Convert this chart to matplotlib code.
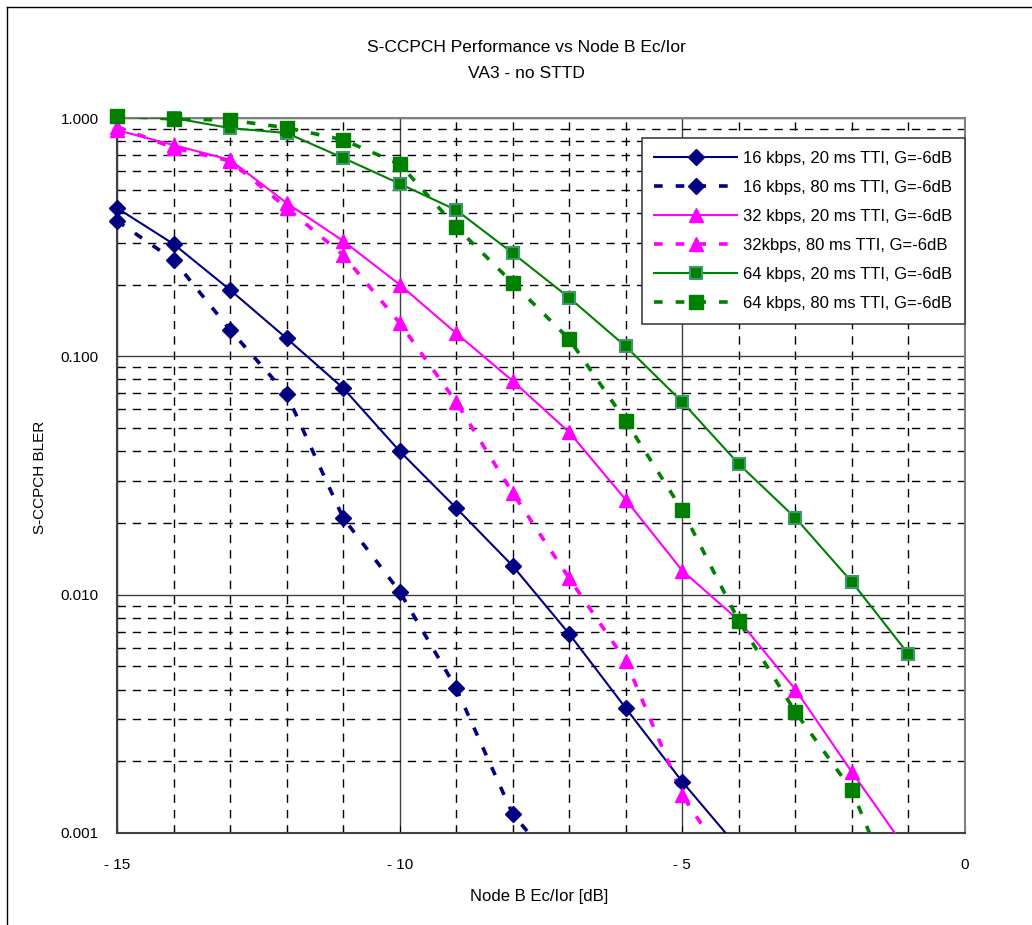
import matplotlib
matplotlib.use("Agg")
import matplotlib.pyplot as plt
from matplotlib.lines import Line2D
from matplotlib.ticker import FixedLocator, NullFormatter, LogLocator
import numpy as np

plt.rcParams['font.family'] = ['Liberation Sans', 'DejaVu Sans']

# ---- data ----
x16_20 = [-15, -14, -13, -12, -11, -10, -9, -8, -7, -6, -5, -4]
y16_20 = [0.419, 0.296, 0.19, 0.119, 0.0736, 0.040, 0.0231, 0.0132, 0.00684, 0.00334, 0.00164, 0.00086]

x16_80 = [-15, -14, -13, -12, -11, -10, -9, -8, -7]
y16_80 = [0.37, 0.254, 0.129, 0.0695, 0.021, 0.0103, 0.00405, 0.0012, 0.00063]

x32_20 = [-15, -14, -13, -12, -11, -10, -9, -8, -7, -6, -5, -4, -3, -2, -1]
y32_20 = [0.89, 0.77, 0.667, 0.44, 0.305, 0.20, 0.125, 0.0788, 0.048, 0.025, 0.0126, 0.0078, 0.0040, 0.0018, 0.00083]

x32_80 = [-15, -14, -13, -12, -11, -10, -9, -8, -7, -6, -5, -4]
y32_80 = [0.92, 0.75, 0.66, 0.42, 0.266, 0.138, 0.0643, 0.0267, 0.0117, 0.00527, 0.00144, 0.00063]

x64_20 = [-15, -14, -13, -12, -11, -10, -9, -8, -7, -6, -5, -4, -3, -2, -1]
y64_20 = [1.01, 1.0, 0.907, 0.865, 0.68, 0.53, 0.411, 0.271, 0.176, 0.110, 0.0643, 0.0353, 0.021, 0.0113, 0.00563]

x64_80 = [-15, -14, -13, -12, -11, -10, -9, -8, -7, -6, -5, -4, -3, -2, -1]
y64_80 = [1.02, 0.99, 0.98, 0.91, 0.81, 0.64, 0.349, 0.203, 0.118, 0.0535, 0.0226, 0.00775, 0.00322, 0.00151, 0.0004]

labels = ["16 kbps, 20 ms TTI, G=-6dB", "16 kbps, 80 ms TTI, G=-6dB",
          "32 kbps, 20 ms TTI, G=-6dB", "32kbps, 80 ms TTI, G=-6dB",
          "64 kbps, 20 ms TTI, G=-6dB", "64 kbps, 80 ms TTI, G=-6dB"]

title_lines = ["S-CCPCH Performance vs Node B Ec/Ior", "VA3 - no STTD"]
xlabel = "Node B Ec/Ior [dB]"
ylabel = "S-CCPCH BLER"
xticks = [-15, -10, -5, 0]
xticklabels = ["- 15", "- 10", "- 5", "0"]
yticks = [0.001, 0.01, 0.1, 1.0]
yticklabels = ["0.001", "0.010", "0.100", "1.000"]

# ---- figure ----
fig = plt.figure(figsize=(10.32, 9.25), dpi=100)
ax = fig.add_axes([117/1032, 1-833/925, (965-117)/1032, (833-118)/925])

# figure border (top and left visible)
fig.add_artist(Line2D([7/1032, 1.0], [1-7/925, 1-7/925], transform=fig.transFigure, color='black', lw=1))
fig.add_artist(Line2D([7/1032, 7/1032], [0, 1-7/925], transform=fig.transFigure, color='black', lw=1))

ax.set_yscale('log')
ax.set_xlim(-15, 0)
ax.set_ylim(0.001, 1.0)

# grid
ax.xaxis.set_major_locator(FixedLocator(xticks))
ax.xaxis.set_minor_locator(FixedLocator([v for v in range(-15, 1) if v not in xticks]))
ax.yaxis.set_major_locator(FixedLocator(yticks))
ax.yaxis.set_minor_locator(LogLocator(base=10, subs=np.arange(2, 10)))
ax.yaxis.set_minor_formatter(NullFormatter())
ax.grid(True, which='major', color='#404040', lw=1.0, ls='-')
ax.grid(True, which='minor', color='black', lw=1.0, ls=(0, (6, 5)))
ax.set_axisbelow(True)

ax.set_xticklabels(xticklabels)
ax.set_yticklabels(yticklabels)
ax.tick_params(axis='x', which='both', direction='in', length=5, width=0.8, top=False, labelsize=11, pad=18)
ax.tick_params(axis='y', which='both', length=0, labelsize=11, pad=13)

for s in ax.spines.values():
    s.set_color('#808080')
    s.set_linewidth(1.5)
ax.spines['left'].set_color('#404040')
ax.spines['bottom'].set_color('#404040')

navy = '#000080'
mag = '#FF00FF'
grn = '#008000'
dash = (0, (2.4, 3.6))

series = [
    (x16_20, y16_20, navy, '-', 1.5, 'D', 8, navy, 1.0),
    (x16_80, y16_80, navy, dash, 2.6, 'D', 8, navy, 1.0),
    (x32_20, y32_20, mag, '-', 1.5, '^', 10, mag, 1.0),
    (x32_80, y32_80, mag, dash, 2.6, '^', 10, mag, 1.0),
    (x64_20, y64_20, grn, '-', 1.5, 's', 9, '#3c9a6a', 1.5),
    (x64_80, y64_80, grn, dash, 2.6, 's', 10, grn, 1.0),
]
handles = []
for (xs, ys, c, ls, lw, mk, ms, mec, mew), lab in zip(series, labels):
    ax.plot(xs, ys, color=c, lw=lw, ls=ls, zorder=3)
    xs_in = [x for x, y in zip(xs, ys) if y >= 0.001]
    ys_in = [y for y in ys if y >= 0.001]
    ax.plot(xs_in, ys_in, ls='none', marker=mk, ms=ms, mfc=c, mec=mec, mew=mew,
            clip_on=False, zorder=4)
    handles.append(Line2D([], [], color=c, lw=lw, ls=ls, marker=mk, ms=ms, mfc=c, mec=mec, mew=mew, label=lab))

leg = ax.legend(handles=handles, loc='upper right', bbox_to_anchor=(1.0, (833-138)/715), fontsize=12,
                handlelength=5.0, frameon=True, fancybox=False, edgecolor='#404040',
                framealpha=1, borderpad=0.75, labelspacing=0.85, handletextpad=0.35, borderaxespad=0)
leg.get_frame().set_linewidth(1.2)
leg.set_zorder(10)

fig.text(526/1032, 1-47/925, title_lines[0], ha='center', va='center', fontsize=12.5)
fig.text(526/1032, 1-73/925, title_lines[1], ha='center', va='center', fontsize=12.5)
fig.text(539/1032, 1-897/925, xlabel, ha='center', va='center', fontsize=12)
fig.text(40/1032, 1-477/925, ylabel, ha='center', va='center', rotation=90, fontsize=11)

fig.savefig('out.png', dpi=100)
